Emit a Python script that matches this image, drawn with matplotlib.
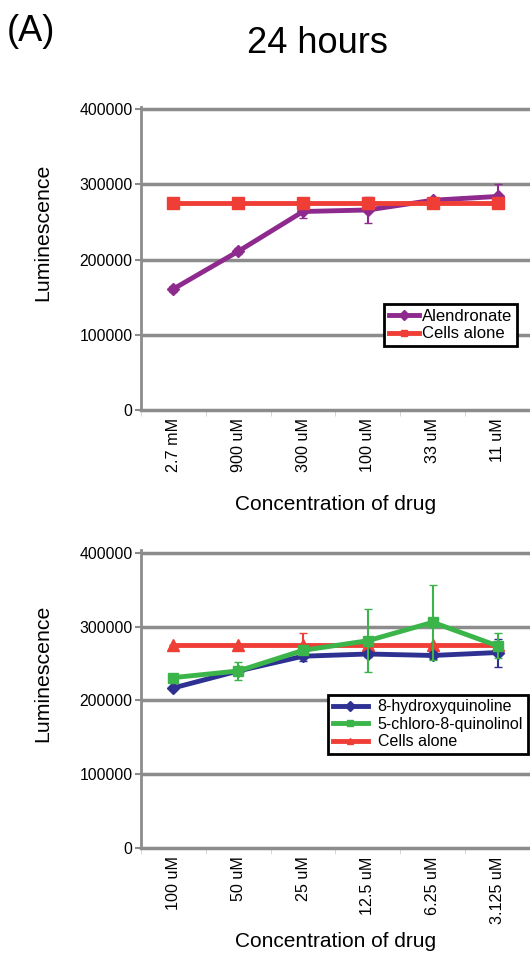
import numpy as np
import matplotlib as mpl
import matplotlib.pyplot as plt
from matplotlib.lines import Line2D

mpl.rcParams['font.family'] = ['Liberation Sans', 'DejaVu Sans']

## top panel data
top_labels = ["2.7 mM", "900 uM", "300 uM", "100 uM", "33 uM", "11 uM"]
alendronate = [161000, 211000, 264000, 266000, 279000, 284000]
alendronate_err = [4000, 4000, 9000, 17000, 3000, 16000]
cells_top = [275000, 275000, 275000, 275000, 275000, 275000]
cells_top_err = [0, 0, 0, 0, 0, 5000]

## bottom panel data
bot_labels = ["100 uM", "50 uM", "25 uM", "12.5 uM", "6.25 uM", "3.125 uM"]
hydroxy = [217000, 240000, 260000, 263000, 261000, 265000]
hydroxy_err = [3000, 5000, 6000, 4000, 5000, 19000]
chloro = [231000, 240000, 268000, 281000, 306000, 274000]
chloro_err = [3000, 12000, 4000, 43000, 51000, 17000]
cells_bot = [275000, 275000, 275000, 275000, 275000, 275000]
cells_bot_err = [0, 0, 17000, 0, 0, 0]

purple = "#8E2A8E"
red = "#EF3E36"
blue = "#2E3192"
green = "#3BB54A"
grid_c = "#8C8C8C"

fig = plt.figure(figsize=(5.3, 9.57), dpi=100)

def style_axes(ax, labels, top, xpad):
    x = np.arange(len(labels))
    ax.set_xlim(-0.5, len(labels) - 0.5)
    ax.set_ylim(0, top)
    ax.set_yticks([0, 100000, 200000, 300000, 400000])
    ax.set_yticklabels(["0", "100000", "200000", "300000", "400000"], fontsize=11.3)
    ax.set_xticks(x)
    ax.set_xticklabels(labels, rotation=90, fontsize=11.6)
    ax.set_xticks(np.arange(len(labels) + 1) - 0.5, minor=True)
    ax.tick_params(axis="x", which="major", length=0, pad=6)
    ax.tick_params(axis="x", which="minor", length=4, color="#D0D0D0")
    ax.tick_params(axis="y", length=4, width=1.5, color=grid_c, pad=2)
    for yv in [100000, 200000, 300000, 400000]:
        ax.axhline(yv, color=grid_c, lw=2.5, zorder=0)
    for s in ["top", "right"]:
        ax.spines[s].set_visible(False)
    ax.spines["left"].set_color(grid_c)
    ax.spines["left"].set_linewidth(2)
    ax.spines["bottom"].set_color(grid_c)
    ax.spines["bottom"].set_linewidth(2.5)
    ax.set_ylabel("Luminescence", fontsize=15.3)
    ax.yaxis.set_label_coords(-0.227, 0.585)
    ax.set_xlabel("Concentration of drug", fontsize=15, labelpad=xpad)
    return x

def make_legend(ax, items, anchor, hlen, hpad, fs):
    handles = [Line2D([0], [0], color=c, lw=3.5, marker=m, ms=5) for c, m, _ in items]
    leg = ax.legend(handles, [t for _, _, t in items], loc="upper left",
                    bbox_to_anchor=anchor, fontsize=fs, frameon=True, fancybox=False,
                    handlelength=hlen, handletextpad=hpad, borderpad=0.3,
                    labelspacing=0.15, borderaxespad=0)
    leg.get_frame().set_edgecolor("black")
    leg.get_frame().set_linewidth(2)
    leg.get_frame().set_alpha(1)

## top chart
ax1 = fig.add_axes([0.266, 0.5716, 0.734, 0.3166])
x = style_axes(ax1, top_labels, 403000, 16)
ax1.errorbar(x, alendronate, yerr=alendronate_err, color=purple, lw=3.5,
             marker="D", ms=6, capsize=3, elinewidth=1.5, zorder=3)
ax1.errorbar(x, cells_top, yerr=cells_top_err, color=red, lw=3.5,
             marker="s", ms=8, capsize=3, elinewidth=1.5, zorder=4)
make_legend(ax1, [(purple, "D", "Alendronate"), (red, "s", "Cells alone")],
            (0.625, 0.35), 1.8, 0.15, 12)

## bottom chart
ax2 = fig.add_axes([0.266, 0.1139, 0.734, 0.3114])
x = style_axes(ax2, bot_labels, 404000, 6)
ax2.errorbar(x, hydroxy, yerr=hydroxy_err, color=blue, lw=3.5,
             marker="D", ms=6, capsize=3, elinewidth=1.5, zorder=3)
ax2.errorbar(x, chloro, yerr=chloro_err, color=green, lw=3.5,
             marker="s", ms=7, capsize=3, elinewidth=1.5, zorder=4)
ax2.errorbar(x, cells_bot, yerr=cells_bot_err, color=red, lw=3.5,
             marker="^", ms=8, capsize=3, elinewidth=1.5, zorder=2)
make_legend(ax2, [(blue, "D", "8-hydroxyquinoline"),
                  (green, "s", "5-chloro-8-quinolinol"),
                  (red, "^", "Cells alone")],
            (0.481, 0.515), 2.2, 0.6, 11.5)

fig.text(0.598, 0.955, "24 hours", fontsize=26, ha="center", va="center")
fig.text(0.012, 0.967, "(A)", fontsize=26, ha="left", va="center")

fig.savefig("out.png", dpi=100)
